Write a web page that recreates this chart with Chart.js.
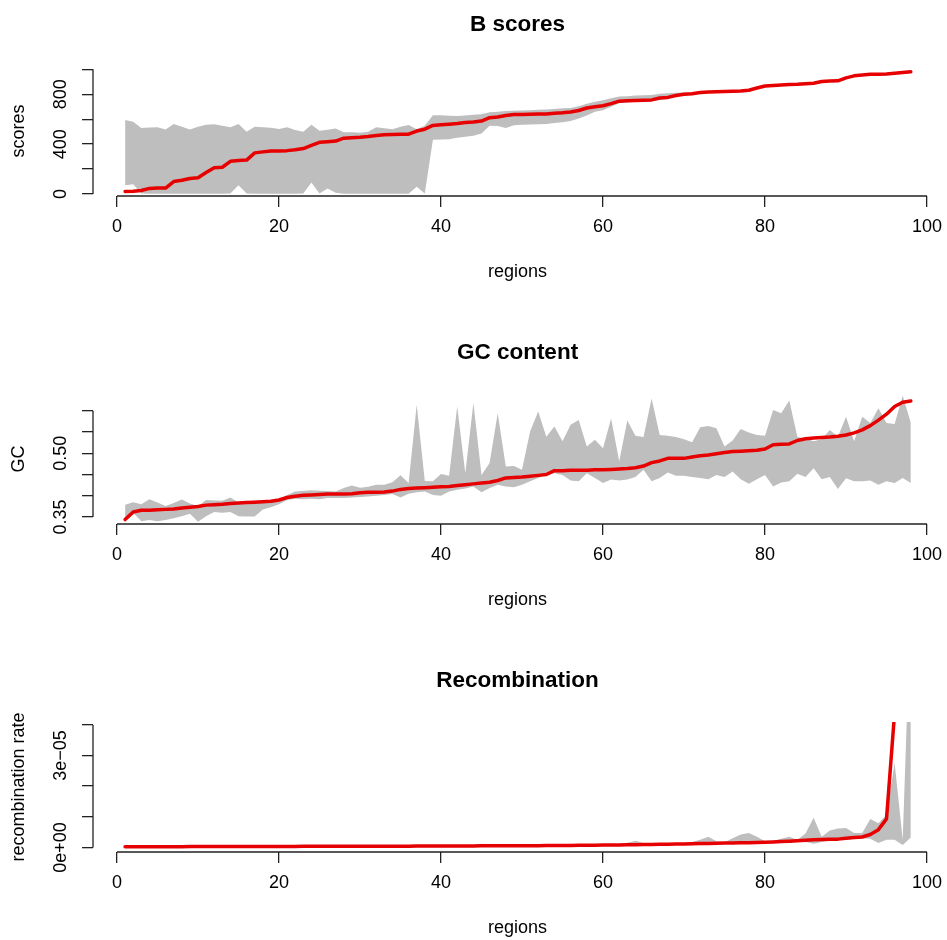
<!DOCTYPE html>
<html>
<head>
<meta charset="utf-8">
<title>Regional summaries</title>
<script src="https://cdn.jsdelivr.net/npm/chart.js@4/dist/chart.umd.min.js"></script>
<style>
  html, body { margin: 0; padding: 0; background: #fff; width: 947px; height: 940px; overflow: hidden; }
  canvas { position: absolute; left: 0; }
</style>
</head>
<body>
<canvas id="bscores" width="947" height="284" style="top:0px"></canvas>
<canvas id="gc" width="947" height="284" style="top:328px"></canvas>
<canvas id="recomb" width="947" height="284" style="top:656px"></canvas>
<script>
// ---- data ------------------------------------------------------------
const regions = [1,2,3,4,5,6,7,8,9,10,11,12,13,14,15,16,17,18,19,20,
  21,22,23,24,25,26,27,28,29,30,31,32,33,34,35,36,37,38,39,40,
  41,42,43,44,45,46,47,48,49,50,51,52,53,54,55,56,57,58,59,60,
  61,62,63,64,65,66,67,68,69,70,71,72,73,74,75,76,77,78,79,80,
  81,82,83,84,85,86,87,88,89,90,91,92,93,94,95,96,97,98];

const xTicks = [0, 20, 40, 60, 80, 100];
const xTickLabels = ['0', '20', '40', '60', '80', '100'];

// B scores: ordered score per region and the spread (min / max) around it
const bScore = [20,22,28,45,48,48,100,110,125,130, 172,210,215,262,268,272,330,338,345,346,
  348,355,365,390,415,420,425,448,452,456, 462,470,475,478,480,480,505,520,550,555,
  560,565,573,578,585,612,618,630,637,638, 640,641,642,648,652,658,670,690,700,708,
  725,745,748,750,752,755,770,775,790,800, 805,815,818,820,822,824,826,832,850,866,
  870,874,878,880,885,888,903,906,908,932, 948,955,960,961,962,968,974,980];
const bScoreMax = [594,580,530,533,535,518,562,540,518,540, 555,560,548,535,562,500,540,535,532,522,
  535,514,500,555,508,515,525,496,495,492, 500,535,528,520,540,554,519,548,632,632,
  628,625,630,635,640,655,660,665,668,670, 672,675,678,682,688,690,705,725,740,752,
  768,782,784,790,792,795,805,808,812,815, 812,822,825,827,829,830,831,836,853,869,
  873,877,881,883,888,891,906,909,911,935, 951,958,963,964,965,971,977,983];
const bScoreMin = [70,78,5,3,2,2,2,2,2,2, 2,2,2,5,70,5,3,2,2,2,
  2,2,5,92,5,45,10,3,3,2, 2,2,2,2,2,3,58,5,435,438,
  440,452,460,468,485,548,545,530,552,555, 558,560,562,570,575,585,605,630,660,672,
  700,728,735,740,742,745,755,765,780,792, 797,807,810,812,814,817,820,828,847,863,
  867,871,875,877,882,885,900,903,905,929, 945,952,957,958,959,965,971,977];
const bTicks = [0, 200, 400, 600, 800, 1000];
const bTickLabels = ['0', '', '400', '', '800', ''];

// GC content
const gcMedian = [0.344,0.362,0.366,0.366,0.367,0.368,0.369,0.371,0.373,0.375,
  0.378,0.379,0.380,0.382,0.383,0.384,0.385,0.386,0.387,0.390,
  0.396,0.399,0.401,0.402,0.403,0.404,0.404,0.404,0.405,0.407,
  0.408,0.408,0.409,0.411,0.415,0.417,0.418,0.419,0.420,0.421,
  0.422,0.424,0.426,0.428,0.430,0.432,0.436,0.442,0.443,0.444,
  0.446,0.448,0.450,0.459,0.459,0.460,0.460,0.460,0.461,0.461,
  0.462,0.463,0.464,0.466,0.470,0.478,0.482,0.488,0.488,0.488,
  0.491,0.494,0.496,0.499,0.502,0.504,0.505,0.506,0.507,0.510,
  0.520,0.521,0.522,0.530,0.534,0.536,0.537,0.538,0.540,0.543,
  0.548,0.555,0.565,0.578,0.592,0.610,0.620,0.623];
const gcMax = [0.379,0.385,0.380,0.392,0.384,0.376,0.383,0.391,0.382,0.376,
  0.390,0.389,0.388,0.396,0.384,0.386,0.388,0.389,0.386,0.392,
  0.402,0.410,0.411,0.413,0.412,0.411,0.410,0.418,0.424,0.419,
  0.421,0.426,0.426,0.432,0.448,0.430,0.614,0.435,0.434,0.451,
  0.447,0.610,0.453,0.618,0.449,0.477,0.594,0.469,0.470,0.461,
  0.551,0.598,0.539,0.563,0.528,0.567,0.578,0.516,0.532,0.512,
  0.582,0.481,0.577,0.541,0.538,0.629,0.543,0.541,0.538,0.533,
  0.526,0.561,0.564,0.559,0.516,0.530,0.557,0.549,0.543,0.541,
  0.602,0.594,0.624,0.538,0.535,0.528,0.533,0.555,0.539,0.586,
  0.528,0.586,0.571,0.606,0.571,0.569,0.635,0.572];
const gcMin = [0.340,0.360,0.340,0.343,0.340,0.343,0.347,0.352,0.358,0.339,
  0.352,0.362,0.360,0.362,0.352,0.351,0.351,0.368,0.373,0.380,
  0.390,0.393,0.392,0.393,0.392,0.395,0.395,0.395,0.396,0.397,
  0.398,0.400,0.402,0.404,0.396,0.405,0.408,0.410,0.402,0.400,
  0.410,0.414,0.417,0.422,0.408,0.418,0.426,0.422,0.420,0.426,
  0.434,0.442,0.449,0.453,0.449,0.436,0.434,0.453,0.442,0.430,
  0.438,0.436,0.438,0.444,0.461,0.434,0.442,0.455,0.447,0.447,
  0.444,0.442,0.439,0.449,0.444,0.457,0.439,0.428,0.439,0.449,
  0.422,0.431,0.434,0.452,0.444,0.465,0.439,0.444,0.416,0.441,
  0.434,0.434,0.436,0.426,0.434,0.430,0.442,0.430];
const gcTicks = [0.35, 0.40, 0.45, 0.50, 0.55, 0.60];
const gcTickLabels = ['0.35', '', '', '0.50', '', ''];

// Recombination rate, in units of 1e-5
const RATE_UNIT = 1e-5;
const recMedian = [0.020,0.021,0.022,0.022,0.023,0.024,0.025,0.025,0.026,0.027,
  0.027,0.028,0.028,0.029,0.030,0.030,0.031,0.031,0.032,0.032,
  0.033,0.033,0.034,0.034,0.035,0.035,0.036,0.036,0.037,0.037,
  0.038,0.039,0.039,0.040,0.041,0.041,0.042,0.043,0.044,0.045,
  0.046,0.047,0.048,0.049,0.050,0.051,0.052,0.053,0.054,0.055,
  0.057,0.058,0.060,0.062,0.064,0.066,0.068,0.070,0.073,0.076,
  0.079,0.082,0.085,0.088,0.092,0.096,0.100,0.105,0.110,0.115,
  0.120,0.125,0.130,0.135,0.140,0.145,0.150,0.155,0.160,0.170,
  0.180,0.190,0.200,0.215,0.230,0.250,0.260,0.265,0.270,0.300,
  0.320,0.340,0.420,0.580,0.930,4.400,6.000,9.000];
const recMax = [0.030,0.030,0.032,0.030,0.031,0.033,0.034,0.033,0.035,0.036,
  0.040,0.036,0.035,0.036,0.037,0.036,0.038,0.038,0.039,0.039,
  0.040,0.040,0.041,0.041,0.042,0.042,0.043,0.043,0.044,0.044,
  0.045,0.046,0.046,0.047,0.048,0.048,0.049,0.050,0.051,0.052,
  0.054,0.056,0.058,0.062,0.120,0.060,0.062,0.063,0.064,0.066,
  0.068,0.070,0.072,0.075,0.078,0.080,0.083,0.086,0.090,0.095,
  0.100,0.110,0.150,0.220,0.140,0.120,0.120,0.125,0.130,0.140,
  0.180,0.250,0.350,0.200,0.170,0.300,0.420,0.470,0.350,0.200,
  0.220,0.280,0.350,0.250,0.450,0.970,0.350,0.550,0.620,0.630,
  0.470,0.470,0.930,0.790,1.070,2.760,0.250,8.000];
const recMin = [0.015,0.016,0.016,0.017,0.017,0.018,0.019,0.019,0.020,0.020,
  0.021,0.021,0.022,0.022,0.023,0.023,0.024,0.024,0.025,0.025,
  0.026,0.026,0.027,0.027,0.028,0.028,0.029,0.029,0.030,0.030,
  0.031,0.031,0.032,0.032,0.033,0.033,0.034,0.034,0.035,0.036,
  0.037,0.038,0.039,0.040,0.041,0.042,0.043,0.044,0.045,0.046,
  0.047,0.048,0.050,0.052,0.054,0.056,0.058,0.060,0.062,0.065,
  0.075,0.078,0.080,0.083,0.087,0.090,0.094,0.098,0.103,0.108,
  0.113,0.118,0.122,0.127,0.132,0.137,0.142,0.147,0.152,0.160,
  0.170,0.180,0.150,0.200,0.180,0.120,0.180,0.220,0.230,0.250,
  0.280,0.300,0.280,0.140,0.250,0.250,0.080,0.320];
const recTicks = [0, 1, 2, 3, 4];
const recTickLabels = ['0e+00', '', '', '3e\u221205', ''];

// ---- styling ---------------------------------------------------------
const FONT = '"Liberation Sans", Arial, Helvetica, sans-serif';
const RED = '#e60000';
const GREY = '#bebebe';
const INK = '#222222';
const LABEL_SIZE = 18;

// Axis lines that run between the first and last tick, plus upright y tick labels
const rAxes = {
  id: 'rAxes',
  afterDraw(chart, args, opts) {
    const { ctx, chartArea } = chart;
    const xs = chart.scales.x, ys = chart.scales.y;
    ctx.save();
    ctx.strokeStyle = INK;
    ctx.lineWidth = 1.3;
    ctx.beginPath();
    ctx.moveTo(xs.getPixelForValue(xTicks[0]), chartArea.bottom);
    ctx.lineTo(xs.getPixelForValue(xTicks[xTicks.length - 1]), chartArea.bottom);
    ctx.moveTo(chartArea.left, ys.getPixelForValue(opts.ticks[0]));
    ctx.lineTo(chartArea.left, ys.getPixelForValue(opts.ticks[opts.ticks.length - 1]));
    ctx.stroke();
    ctx.fillStyle = '#000';
    ctx.font = LABEL_SIZE + 'px ' + FONT;
    ctx.textAlign = 'center';
    ctx.textBaseline = 'middle';
    opts.ticks.forEach((v, i) => {
      const lab = opts.labels[i];
      if (!lab) return;
      ctx.save();
      ctx.translate(chartArea.left - 32, ys.getPixelForValue(v));
      ctx.rotate(-Math.PI / 2);
      ctx.fillText(lab, 0, 0);
      ctx.restore();
    });
    ctx.restore();
  }
};

function series(values, scale) {
  return regions.map((r, i) => ({ x: r, y: values[i] * scale }));
}

function panel(id, o) {
  const s = o.scale || 1;
  const ticks = o.yTicks.map(v => v * s);
  new Chart(document.getElementById(id), {
    type: 'line',
    data: {
      datasets: [
        { data: series(o.mid, s), borderColor: RED, borderWidth: 3.5, pointRadius: 0, fill: false, tension: 0, borderJoinStyle: 'round', borderCapStyle: 'round' },
        { data: series(o.hi, s), borderWidth: 0, borderColor: 'rgba(0,0,0,0)', pointRadius: 0, backgroundColor: GREY, fill: '+1', tension: 0 },
        { data: series(o.lo, s), borderWidth: 0, borderColor: 'rgba(0,0,0,0)', pointRadius: 0, fill: false, tension: 0 }
      ]
    },
    options: {
      responsive: false,
      animation: false,
      events: [],
      layout: { autoPadding: false, padding: { left: 0, right: 5, top: 0, bottom: 0 } },
      plugins: {
        legend: { display: false },
        tooltip: { enabled: false },
        title: {
          display: true, text: o.title, fullSize: false, color: '#000',
          font: { family: FONT, size: 22.5, weight: 'bold', lineHeight: 1.2 },
          padding: { top: 11.5, bottom: 27.5 }
        },
        rAxes: { ticks: ticks, labels: o.yLabels }
      },
      scales: {
        x: {
          type: 'linear', min: -2.963, max: 101.85,
          afterBuildTicks: sc => { sc.ticks = xTicks.map(v => ({ value: v })); },
          afterFit: sc => { sc.height = 88; sc.paddingLeft = 0; sc.paddingRight = 0; },
          ticks: {
            callback: (v, i) => xTickLabels[i],
            color: '#000', autoSkip: false, maxRotation: 0, padding: 9.2,
            font: { family: FONT, size: LABEL_SIZE }
          },
          grid: { drawOnChartArea: false, tickLength: 11, color: INK, lineWidth: 1.3 },
          border: { display: false },
          title: {
            display: true, text: 'regions', color: '#000',
            font: { family: FONT, size: LABEL_SIZE, lineHeight: 1.2 },
            padding: { top: 0, bottom: 1.2 }
          }
        },
        y: {
          type: 'linear', min: o.yMin * s, max: o.yMax * s,
          afterBuildTicks: sc => { sc.ticks = ticks.map(v => ({ value: v })); },
          afterFit: sc => { sc.width = 93; sc.paddingTop = 0; sc.paddingBottom = 0; },
          ticks: { display: false },
          grid: { drawOnChartArea: false, tickLength: 11, color: INK, lineWidth: 1.3 },
          border: { display: false },
          title: {
            display: true, text: o.yTitle, color: '#000',
            font: { family: FONT, size: LABEL_SIZE, lineHeight: 1.2 },
            padding: { top: 8.2, bottom: 0 }
          }
        }
      }
    },
    plugins: [rAxes]
  });
}

panel('bscores', {
  title: 'B scores', yTitle: 'scores',
  mid: bScore, hi: bScoreMax, lo: bScoreMin,
  yMin: -16, yMax: 1027, yTicks: bTicks, yLabels: bTickLabels
});
panel('gc', {
  title: 'GC content', yTitle: 'GC',
  mid: gcMedian, hi: gcMax, lo: gcMin,
  yMin: 0.3336, yMax: 0.6394, yTicks: gcTicks, yLabels: gcTickLabels
});
panel('recomb', {
  title: 'Recombination', yTitle: 'recombination rate',
  mid: recMedian, hi: recMax, lo: recMin, scale: RATE_UNIT,
  yMin: -0.15, yMax: 4.094, yTicks: recTicks, yLabels: recTickLabels
});
</script>
</body>
</html>
